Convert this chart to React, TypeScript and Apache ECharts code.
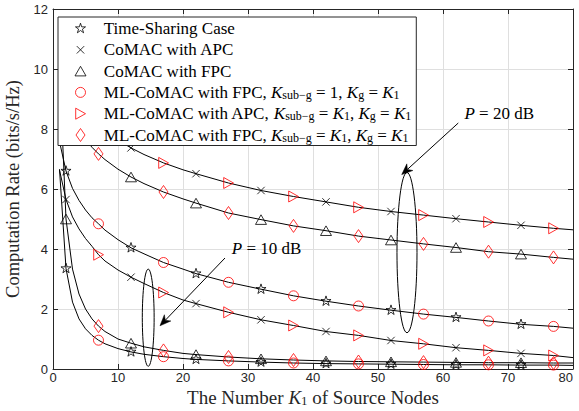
import React, { useEffect, useRef } from "react";
import * as echarts from "echarts";

// ---- data ----
const K = [1, 2, 3, 4, 5, 6, 7, 8, 10, 12, 14, 17, 20, 22, 27, 32, 37, 42, 47, 52, 57, 62, 67, 72, 77, 80];

// P = 20 dB
const apc20 = [10.95, 9.95, 9.37, 8.95, 8.63, 8.37, 8.15, 7.95, 7.63, 7.37, 7.15, 6.87, 6.64, 6.51, 6.2, 5.95, 5.75, 5.57, 5.39, 5.25, 5.13, 5.01, 4.9, 4.79, 4.69, 4.64];
const fpc20 = [9.95, 8.96, 8.38, 7.97, 7.65, 7.39, 7.17, 6.98, 6.66, 6.4, 6.18, 5.9, 5.67, 5.53, 5.2, 4.98, 4.77, 4.61, 4.43, 4.3, 4.17, 4.05, 3.91, 3.83, 3.72, 3.66];
const ts20 = [7.58, 6.6, 6.02, 5.62, 5.3, 5.04, 4.84, 4.63, 4.31, 4.04, 3.84, 3.55, 3.33, 3.18, 2.89, 2.66, 2.44, 2.26, 2.1, 1.96, 1.83, 1.72, 1.6, 1.49, 1.42, 1.36];
// P = 10 dB
const apc10 = [6.63, 5.65, 5.07, 4.67, 4.35, 4.09, 3.81, 3.6, 3.3, 3.06, 2.85, 2.55, 2.3, 2.18, 1.89, 1.64, 1.45, 1.25, 1.12, 0.95, 0.84, 0.71, 0.62, 0.52, 0.45, 0.38];
const fpc10 = [10, 5, 3.33, 2.5, 2, 1.67, 1.43, 1.25, 1.0, 0.86, 0.74, 0.62, 0.52, 0.48, 0.4, 0.34, 0.3, 0.27, 0.25, 0.24, 0.23, 0.22, 0.21, 0.21, 0.2, 0.2];
const ts10 = [6.66, 3.35, 2.23, 1.67, 1.34, 1.12, 0.96, 0.84, 0.68, 0.57, 0.49, 0.41, 0.35, 0.32, 0.27, 0.23, 0.2, 0.18, 0.17, 0.16, 0.15, 0.14, 0.14, 0.13, 0.13, 0.12];

// marker positions
const blackMarkerK = [2, 12, 22, 32, 42, 52, 62, 72];
const redMarkerK = [7, 17, 27, 37, 47, 57, 67, 77];

// legend names
const names = [
  "Time-Sharing Case",
  "CoMAC with APC",
  "CoMAC with FPC",
  "ML-CoMAC with FPC, K_sub-g = 1, K_g = K_1",
  "ML-CoMAC with APC, K_sub-g = K_1, K_g = K_1",
  "ML-CoMAC with FPC, K_sub-g = K_1, K_g = K_1",
];
const legendRich: Record<string, string> = {
  [names[0]]: "Time-Sharing Case",
  [names[1]]: "CoMAC with APC",
  [names[2]]: "CoMAC with FPC",
  [names[3]]: "ML-CoMAC with FPC, {i|K}{s|sub−g}{n| = 1, }{i|K}{s|g}{n| = }{i|K}{s|1}",
  [names[4]]: "ML-CoMAC with APC, {i|K}{s|sub−g}{n| = }{i|K}{s|1}{n|, }{i|K}{s|g}{n| = }{i|K}{s|1}",
  [names[5]]: "ML-CoMAC with FPC, {i|K}{s|sub−g}{n| = }{i|K}{s|1}{n|, }{i|K}{s|g}{n| = }{i|K}{s|1}",
};

// annotations (data coordinates)
const ann20 = { text: "P = 20 dB", at: [68.65, 8.53], from: [62.35, 8.2], to: [53.65, 6.48], ell: [54.46, 3.88, 1.54, 2.67] };
const ann10 = { text: "P = 10 dB", at: [32.87, 4.03], from: [26.46, 3.7], to: [16.46, 1.44], ell: [14.65, 1.71, 0.91, 1.62] };

// ---- symbols (14x14 box) ----
const B = "path://M0,0M14,14";
const SYM = {
  star: B + "M7,1.7L8.19,5.36L12.04,5.36L8.93,7.63L10.12,11.29L7,9.03L3.88,11.29L5.07,7.63L1.96,5.36L5.81,5.36Z",
  cross: B + "M3.3,3.3L10.7,10.7M10.7,3.3L3.3,10.7",
  triUp: B + "M7,2.2L12.5,11.8L1.5,11.8Z",
  circle: B + "M12,7A5,5 0 1 1 2,7A5,5 0 1 1 12,7Z",
  triRight: B + "M2.2,1.5L12,7L2.2,12.5Z",
  diamond: B + "M7,0.5L11.5,7L7,13.5L2.5,7Z",
};

const SERIF = "'Liberation Serif', 'Times New Roman', serif";
const SANS = "'Liberation Sans', Arial, sans-serif";

const pick = (arr: number[], ks: number[]) => ks.map((k) => [k, arr[K.indexOf(k)]]);
const lineData = (arr: number[]) => K.map((k, i) => [k, arr[i]]);

function richFor(size: number, color = "#000") {
  return {
    n: { fontFamily: SERIF, fontSize: size, color, lineHeight: size },
    i: { fontFamily: SERIF, fontSize: size, fontStyle: "italic", color, lineHeight: size },
    s: { fontFamily: SERIF, fontSize: Math.round(size * 0.7), color, lineHeight: 8, verticalAlign: "bottom" },
  };
}

export default function App() {
  const ref = useRef<HTMLDivElement>(null);
  useEffect(() => {
    const chart = echarts.init(ref.current!, null, { renderer: "svg" });
    const lines = [apc20, fpc20, ts20, apc10, fpc10, ts10].map((arr) => ({
      type: "line",
      data: lineData(arr),
      showSymbol: false,
      symbol: "none",
      lineStyle: { color: "#000", width: 1 },
      z: 2,
      silent: true,
    }));
    const scat = (name: string, arrs: number[][], ks: number[], symbol: string, color: string) =>
      arrs.map((arr) => ({
        type: "scatter",
        name,
        data: pick(arr, ks),
        symbol,
        symbolSize: 14,
        itemStyle: { color: "rgba(0,0,0,0)", borderColor: color, borderWidth: 1 },
        z: 3,
        silent: true,
      }));
    const series = [
      ...lines,
      ...scat(names[0], [ts20, ts10], blackMarkerK, SYM.star, "#000"),
      ...scat(names[1], [apc20, apc10], blackMarkerK, SYM.cross, "#000"),
      ...scat(names[2], [fpc20, fpc10], blackMarkerK, SYM.triUp, "#000"),
      ...scat(names[3], [ts20, ts10], redMarkerK, SYM.circle, "#ff0000"),
      ...scat(names[4], [apc20, apc10], redMarkerK, SYM.triRight, "#ff0000"),
      ...scat(names[5], [fpc20, fpc10], redMarkerK, SYM.diamond, "#ff0000"),
    ];
    const axisCol = "#262626";
    const common = {
      type: "value",
      axisLine: { show: true, onZero: false, lineStyle: { color: axisCol, width: 1 } },
      axisTick: { show: true, inside: true, length: 5, lineStyle: { color: axisCol, width: 1 } },
      splitLine: { show: false },
      axisLabel: { show: false },
    };
    chart.setOption({
      animation: false,
      backgroundColor: "#fff",
      grid: { left: 53, right: 6, top: 9, bottom: 42, outerBoundsMode: "none" },
      xAxis: [
        {
          ...common,
          min: 0, max: 80, interval: 10, position: "bottom",
          splitLine: { show: true, lineStyle: { color: "#dfdfdf", width: 1 } },
          axisLabel: { show: true, color: axisCol, fontFamily: SANS, fontSize: 13, margin: 1.5, alignMaxLabel: "right" },
          name: "The Number {i|K}{s|1} of Source Nodes",
          nameLocation: "middle",
          nameGap: 18,
          nameTextStyle: { fontFamily: SERIF, fontSize: 19, color: "#262626", rich: richFor(19, "#262626") },
        },
        { ...common, min: 0, max: 80, interval: 10, position: "top" },
      ],
      yAxis: [
        {
          ...common,
          min: 0, max: 12, interval: 2, position: "left",
          splitLine: { show: true, lineStyle: { color: "#dfdfdf", width: 1 } },
          axisLabel: { show: true, color: axisCol, fontFamily: SANS, fontSize: 13, margin: 5 },
          name: "Computation Rate (bits/s/Hz)",
          nameLocation: "middle",
          nameGap: 19,
          nameTextStyle: { fontFamily: SERIF, fontSize: 18.5, color: "#262626" },
        },
        { ...common, min: 0, max: 12, interval: 2, position: "right" },
      ],
      legend: {
        data: names,
        orient: "vertical",
        left: 58,
        top: 17,
        padding: [3, 5, 2, 15],
        itemGap: 4.3,
        itemWidth: 36.6,
        itemHeight: 14,
        selectedMode: false,
        backgroundColor: "#fff",
        borderColor: "#262626",
        borderWidth: 1,
        borderRadius: 0,
        itemStyle: { borderWidth: 1 },
        textStyle: { fontFamily: SERIF, fontSize: 17, color: "#000", lineHeight: 16, rich: richFor(17) },
        formatter: (n: string) => legendRich[n] || n,
      },
      series,
    });

    const px = (p: number[]) => chart.convertToPixel({ xAxisIndex: 0, yAxisIndex: 0 }, p) as number[];
    const graphics: any[] = [];
    [ann20, ann10].forEach((a) => {
      const c = px([a.ell[0], a.ell[1]]);
      const e = px([a.ell[0] + a.ell[2], a.ell[1] + a.ell[3]]);
      graphics.push({
        type: "ellipse",
        shape: { cx: c[0], cy: c[1], rx: Math.abs(e[0] - c[0]), ry: Math.abs(e[1] - c[1]) },
        style: { fill: "none", stroke: "#000", lineWidth: 1 },
        z: 10,
      });
      const p1 = px(a.from);
      const p2 = px(a.to);
      const dx = p2[0] - p1[0];
      const dy = p2[1] - p1[1];
      const len = Math.hypot(dx, dy);
      const ux = dx / len, uy = dy / len;
      const nx = -uy, ny = ux;
      const L = 11, W = 4.5;
      const back = [p2[0] - L * ux, p2[1] - L * uy];
      const notch = [p2[0] - 0.7 * L * ux, p2[1] - 0.7 * L * uy];
      graphics.push({
        type: "line",
        shape: { x1: p1[0], y1: p1[1], x2: notch[0], y2: notch[1] },
        style: { stroke: "#000", lineWidth: 1 },
        z: 10,
      });
      graphics.push({
        type: "polygon",
        shape: {
          points: [
            [p2[0], p2[1]],
            [back[0] + W * nx, back[1] + W * ny],
            notch,
            [back[0] - W * nx, back[1] - W * ny],
          ],
        },
        style: { fill: "#000", stroke: "#000", lineWidth: 0.5 },
        z: 10,
      });
      const t = px(a.at);
      const parts = a.text.split(" = ");
      graphics.push({
        type: "text",
        x: t[0],
        y: t[1],
        style: {
          text: "{i|" + parts[0] + "}{n| = " + parts[1] + "}",
          rich: richFor(17),
          align: "center",
          verticalAlign: "middle",
          fontFamily: SERIF,
          fontSize: 17,
          fill: "#000",
        },
        z: 10,
      });
    });
    chart.setOption({ graphic: graphics });
    return () => chart.dispose();
  }, []);
  return <div ref={ref} style={{ position: "absolute", left: 0, top: 0, width: 579, height: 411 }} />;
}
